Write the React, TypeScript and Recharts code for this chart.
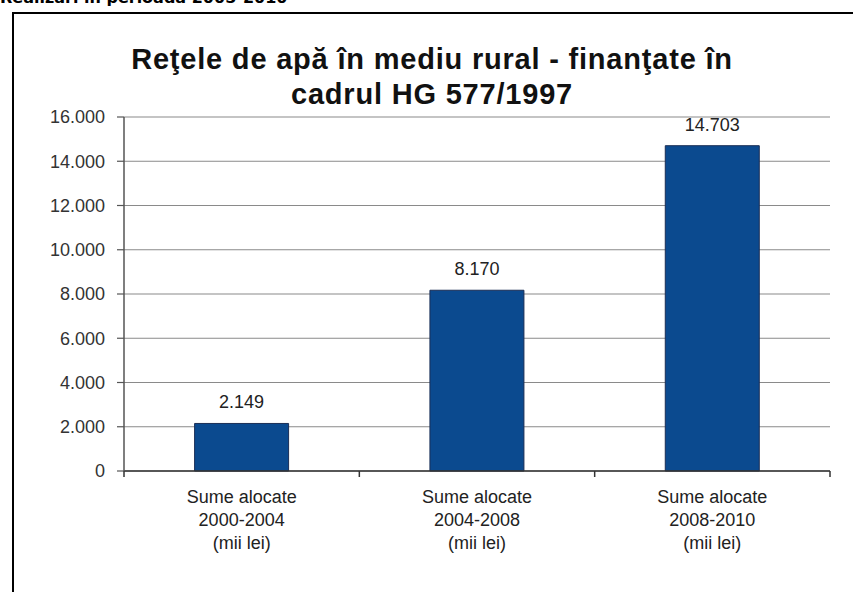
import React from 'react';
import { BarChart, Bar, XAxis, YAxis, CartesianGrid, LabelList } from 'recharts';

// values (mii lei)
const periods = ['2000-2004', '2004-2008', '2008-2010'];
const amounts = [2149, 8170, 14703];
const yTicks = [0, 2000, 4000, 6000, 8000, 10000, 12000, 14000, 16000];

const data = periods.map((p, i) => ({ period: p, value: amounts[i] }));

const fmt = (v: number) => String(v).replace(/\B(?=(\d{3})+(?!\d))/g, '.');

const FONT = 'Liberation Sans, Arial, sans-serif';

const CategoryTick = (props: any) => {
  const { x, y, payload, index, visibleTicksCount } = props;
  const half = payload.offset || 117.7;
  const lines = ['Sume alocate', payload.value, '(mii lei)'];
  const isLast = index === (visibleTicksCount ?? 3) - 1;
  return (
    <g>
      <line x1={x - half} x2={x - half} y1={y} y2={y + 6} stroke="#333" strokeWidth={1.5} />
      {isLast && <line x1={x + half} x2={x + half} y1={y} y2={y + 6} stroke="#333" strokeWidth={1.5} />}
      <text x={x} y={y} textAnchor="middle" fontFamily={FONT} fontSize={18} fill="#222">
        {lines.map((t, i) => (
          <tspan key={i} x={x} dy={i === 0 ? 32 : 23}>
            {t}
          </tspan>
        ))}
      </text>
    </g>
  );
};

const App: React.FC = () => {
  return (
    <div style={{ position: 'fixed', left: 0, top: 0, width: 853, height: 592, background: '#fff', overflow: 'hidden' }}>
      <div
        style={{
          position: 'absolute',
          left: 0,
          top: -10,
          fontFamily: 'DejaVu Sans, Verdana, sans-serif',
          fontWeight: 'bold',
          fontSize: 16,
          lineHeight: '16px',
          whiteSpace: 'nowrap',
          color: '#000',
        }}
      >
        Realizări în perioada 2005-2010
      </div>
      <div
        style={{
          position: 'absolute',
          left: 12,
          top: 12,
          width: 860,
          height: 600,
          border: '2px solid #000',
        }}
      />
      <div
        style={{
          position: 'absolute',
          left: 0,
          top: 42,
          width: 864,
          textAlign: 'center',
          fontFamily: FONT,
          fontWeight: 'bold',
          fontSize: 29,
          letterSpacing: 0.8,
          lineHeight: '35px',
          color: '#111',
        }}
      >
        Reţele de apă în mediu rural - finanţate în
        <br />
        cadrul HG 577/1997
      </div>
      <div style={{ position: 'absolute', left: 0, top: 0 }}>
        <BarChart
          width={853}
          height={592}
          data={data}
          margin={{ top: 117, right: 23, left: 0, bottom: 0 }}
          barCategoryGap="30%"
        >
          <CartesianGrid vertical={false} stroke="#8a8a8a" strokeWidth={1.2} />
          <XAxis
            dataKey="period"
            height={121}
            tickLine={false}
            tickSize={0}
            tickMargin={0}
            axisLine={{ stroke: '#333', strokeWidth: 1.5 }}
            tick={<CategoryTick />}
            interval={0}
          />
          <YAxis
            width={124}
            domain={[0, 16000]}
            ticks={yTicks}
            tickFormatter={fmt}
            tickSize={7}
            tickMargin={12}
            axisLine={{ stroke: '#555', strokeWidth: 1.5 }}
            tickLine={{ stroke: '#555', strokeWidth: 1.2 }}
            tick={{ fontFamily: FONT, fontSize: 18, fill: '#333' }}
          />
          <Bar dataKey="value" fill="#0B4A8F" stroke="#1B2E55" strokeWidth={1} isAnimationActive={false}>
            <LabelList
              dataKey="value"
              position="top"
              offset={15}
              formatter={(v: any) => fmt(Number(v))}
              style={{ fontFamily: FONT, fontSize: 18, fill: '#222' }}
            />
          </Bar>
        </BarChart>
      </div>
    </div>
  );
};

export default App;
